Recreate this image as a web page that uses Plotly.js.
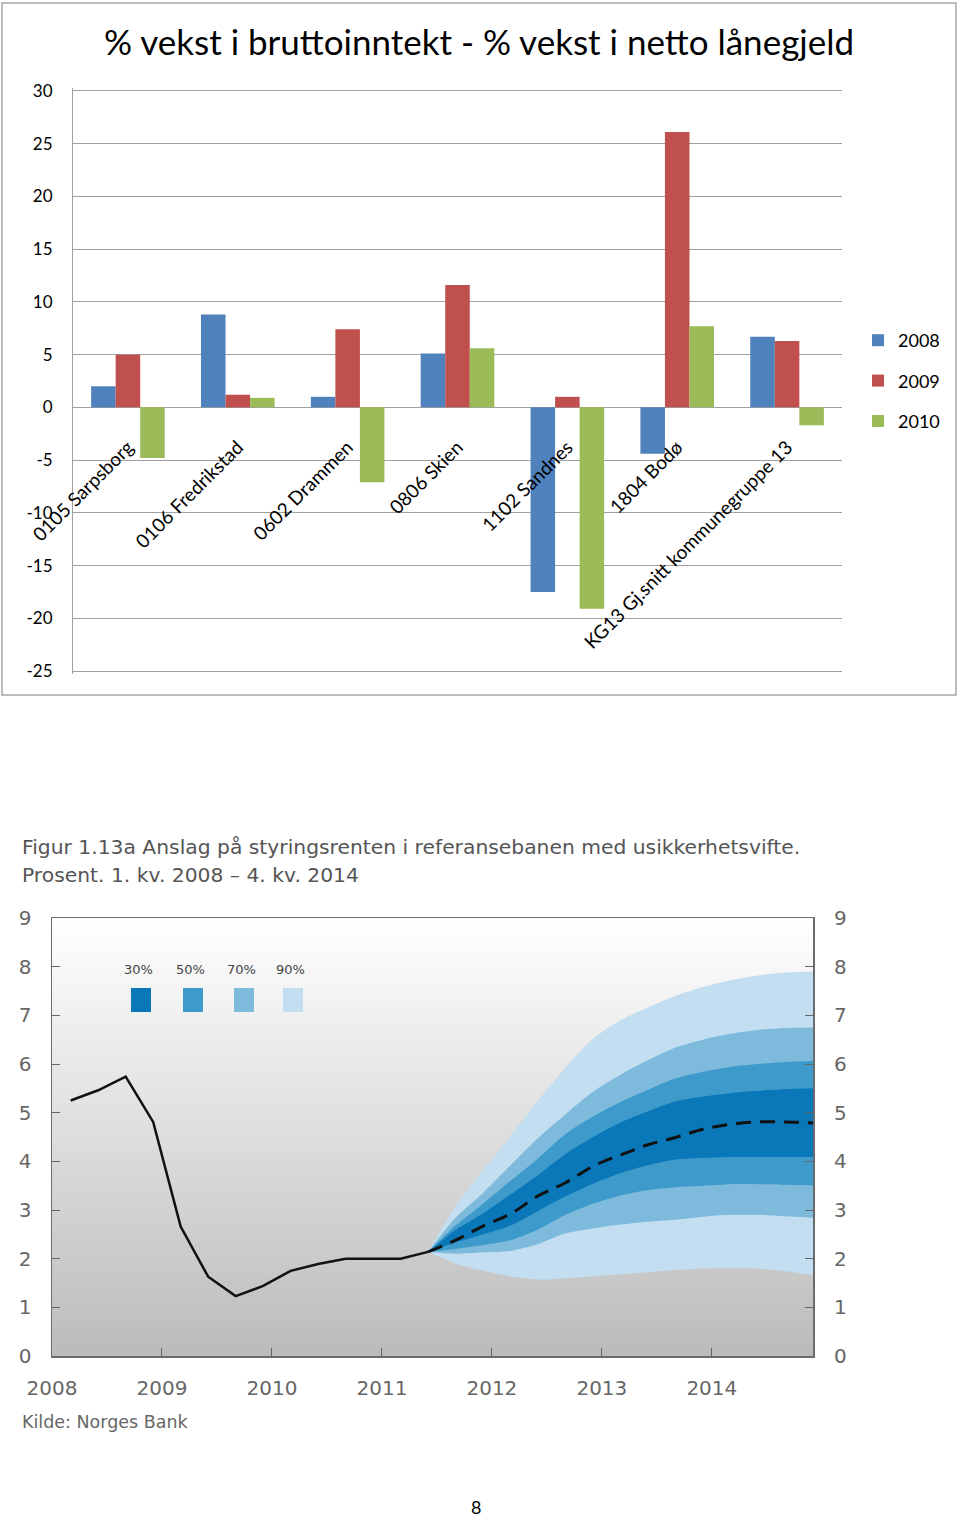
<!DOCTYPE html>
<html><head><meta charset="utf-8">
<script src="https://cdn.plot.ly/plotly-3.0.1.min.js"></script>
<style>html,body{margin:0;padding:0;background:#fff;} #chart{width:960px;height:1517px;}</style>
</head><body><div id="chart"></div>
<script>
// ---------- Top chart data ----------
const municipalities = ['0105 Sarpsborg','0106 Fredrikstad','0602 Drammen','0806 Skien','1102 Sandnes','1804 Bodø','KG13 Gj.snitt kommunegruppe 13'];
const growth2008 = [2.0, 8.8, 1.0, 5.1, -17.5, -4.4, 6.7];
const growth2009 = [5.0, 1.2, 7.4, 11.6, 1.0, 26.1, 6.3];
const growth2010 = [-4.8, 0.9, -7.1, 5.6, -19.1, 7.7, -1.7];
const seriesNames = ['2008','2009','2010'];
const seriesColors = ['#4f81bd','#c0504d','#9bbb59'];
const topTickVals = [-25,-20,-15,-10,-5,0,5,10,15,20,25,30];
const topTickText = ['-25','-20','-15','-10','-5','0','5','10','15','20','25','30'];

// ---------- Bottom chart data ----------
const histQuarters = [2008.17,2008.42,2008.67,2008.92,2009.17,2009.42,2009.67,2009.92,2010.17,2010.42,2010.67,2010.92,2011.17,2011.42];
const policyRate   = [5.25,5.46,5.74,4.81,2.66,1.63,1.23,1.44,1.75,1.89,2.0,2.0,2.0,2.14];
const fcQuarters = [2011.42,2011.67,2011.92,2012.17,2012.42,2012.67,2012.92,2013.17,2013.42,2013.67,2013.92,2014.17,2014.42,2014.67,2014.92];
const median  = [2.14,2.38,2.67,2.92,3.29,3.56,3.90,4.13,4.34,4.49,4.66,4.76,4.81,4.81,4.79];
const upper90 = [2.14,3.08,3.82,4.52,5.25,5.93,6.52,6.90,7.16,7.40,7.58,7.72,7.82,7.88,7.90];
const upper70 = [2.14,2.84,3.35,3.92,4.48,4.97,5.43,5.78,6.08,6.34,6.50,6.62,6.70,6.74,6.75];
const upper50 = [2.14,2.68,3.13,3.60,4.06,4.56,4.92,5.22,5.47,5.70,5.84,5.94,6.00,6.04,6.06];
const upper30 = [2.14,2.59,2.93,3.32,3.72,4.15,4.50,4.80,5.03,5.23,5.33,5.40,5.45,5.48,5.50];
const lower30 = [2.14,2.33,2.50,2.68,2.98,3.28,3.54,3.76,3.92,4.04,4.07,4.09,4.09,4.09,4.09];
const lower50 = [2.14,2.20,2.28,2.38,2.60,2.90,3.13,3.30,3.41,3.47,3.50,3.53,3.53,3.52,3.51];
const lower70 = [2.14,2.10,2.13,2.16,2.30,2.52,2.62,2.70,2.76,2.80,2.86,2.90,2.90,2.87,2.84];
const lower90 = [2.14,1.90,1.75,1.64,1.57,1.60,1.64,1.68,1.72,1.77,1.80,1.81,1.80,1.74,1.66];
const bandLabels = ['30%','50%','70%','90%'];
const bandColors = ['#0a78b8','#3d9acb','#7dbadb','#c2def0'];
const yearTicks = [2008,2009,2010,2011,2012,2013,2014];
const xRange2 = [2008, 2014.92];

// ---------- helpers (pixel -> paper) ----------
const W = 960, H = 1517;
const px = x => x / W;
const py = y => 1 - y / H;

const traces = [];
[growth2008, growth2009, growth2010].forEach((vals, i) => {
  traces.push({type:'bar', x: municipalities, y: vals, name: seriesNames[i], legendgroup: 'g'+i,
    marker:{color: seriesColors[i]}, xaxis:'x', yaxis:'y', hoverinfo:'skip'});
});
traces.push({type:'heatmap', x: xRange2, y:[0,9], z:[[0,0],[1,1]], zsmooth:'best', showscale:false,
  colorscale:[[0,'#bbbbbb'],[1,'#ffffff']], xaxis:'x2', yaxis:'y2', hoverinfo:'skip', showlegend:false});
const bands = [[lower90, upper90, 3],[lower70, upper70, 2],[lower50, upper50, 1],[lower30, upper30, 0]];
bands.forEach(([lo, hi, ci]) => {
  traces.push({type:'scatter', mode:'lines', x: fcQuarters, y: lo, line:{width:0, shape:'spline', smoothing:0.8},
    xaxis:'x2', yaxis:'y2', showlegend:false, hoverinfo:'skip'});
  traces.push({type:'scatter', mode:'lines', x: fcQuarters, y: hi, line:{width:0, shape:'spline', smoothing:0.8},
    fill:'tonexty', fillcolor: bandColors[ci], xaxis:'x2', yaxis:'y2', showlegend:false, hoverinfo:'skip'});
});
traces.push({type:'scatter', mode:'lines', x: histQuarters, y: policyRate, line:{color:'#111', width:2.5},
  xaxis:'x2', yaxis:'y2', showlegend:false, hoverinfo:'skip'});
traces.push({type:'scatter', mode:'lines', x: fcQuarters, y: median, line:{color:'#111', width:3, dash:'15px,9px', shape:'spline'},
  xaxis:'x2', yaxis:'y2', showlegend:false, hoverinfo:'skip'});
traces.push({type:'scatter', mode:'lines', x:xRange2, y:[0,0], xaxis:'x2', yaxis:'y3', line:{width:0}, showlegend:false, hoverinfo:'skip'});

const annFam = 'DejaVu Sans, sans-serif';
const annotations = [
  {text:'Figur 1.13a Anslag på styringsrenten i referansebanen med usikkerhetsvifte.', x:px(20), y:py(847), xref:'paper', yref:'paper', xanchor:'left', yanchor:'middle', showarrow:false, font:{family:annFam, size:20.3, color:'#555'}},
  {text:'Prosent. 1. kv. 2008 – 4. kv. 2014', x:px(20), y:py(875), xref:'paper', yref:'paper', xanchor:'left', yanchor:'middle', showarrow:false, font:{family:annFam, size:20.3, color:'#555'}},
  {text:'Kilde: Norges Bank', x:px(20), y:py(1422), xref:'paper', yref:'paper', xanchor:'left', yanchor:'middle', showarrow:false, font:{family:annFam, size:17.5, color:'#666'}},
  {text:'8', x:px(476), y:py(1507), xref:'paper', yref:'paper', xanchor:'center', yanchor:'middle', showarrow:false, font:{family:'Lato, sans-serif', size:18, color:'#000'}}
];
const legendSquareLeft = [131, 183, 234, 283];
const shapes = [
  {type:'rect', xref:'paper', yref:'paper', x0:px(2), x1:px(956), y0:py(695), y1:py(3), line:{color:'#a6a6a6', width:1.5}}
];
bandLabels.forEach((lab, i) => {
  const l = legendSquareLeft[i];
  annotations.push({text: lab, x:px(l+7), y:py(969), xref:'paper', yref:'paper', xanchor:'center', yanchor:'middle', showarrow:false, font:{family:annFam, size:13, color:'#444'}});
  shapes.push({type:'rect', xref:'paper', yref:'paper', x0:px(l), x1:px(l+20), y0:py(1012), y1:py(988), fillcolor: bandColors[i], line:{width:0}});
});

const axisFont2 = {family:annFam, size:20, color:'#666'};
const topFont = {family:'Lato, sans-serif', size:17, color:'#000'};
const layout = {
  width: W, height: H, margin:{l:0,r:0,t:0,b:0},
  paper_bgcolor:'#fff', plot_bgcolor:'rgba(0,0,0,0)',
  title:{text:'% vekst i bruttoinntekt - % vekst i netto lånegjeld', x:0.499, xanchor:'center', y:py(43), yanchor:'middle',
    font:{family:'Lato, sans-serif', size:35, color:'#000'}},
  barmode:'group', bargap:0.33, bargroupgap:0,
  showlegend:true,
  legend:{x:px(858), xanchor:'left', y:py(381), yanchor:'middle', tracegroupgap:14, bgcolor:'rgba(0,0,0,0)',
    font:{family:'Lato, sans-serif', size:18, color:'#000'}, itemwidth:30},
  xaxis:{domain:[px(73), px(842)], anchor:'free', position:py(407.6), type:'category', tickangle:-45,
    tickfont:{family:'Lato, sans-serif', size:19, color:'#000'}, showgrid:false, zeroline:false, showline:false, ticks:'',
    ticklabelstandoff:24},
  yaxis:{domain:[py(674.2), py(87.8)], anchor:'x', range:[-25.3,30.3], tickvals:topTickVals, ticktext:topTickText,
    gridcolor:'#a0a0a0', gridwidth:1,
    zeroline:true, zerolinecolor:'#a0a0a0', zerolinewidth:1, showline:true, linecolor:'#a0a0a0', linewidth:1,
    tickfont:topFont, ticks:'', ticklabelstandoff:16},
  xaxis2:{domain:[px(52), px(813)], anchor:'y2', range:xRange2, tickvals:yearTicks, ticktext:yearTicks.map(String),
    ticks:'inside', ticklen:8, tickcolor:'#666', showline:true, mirror:true, linecolor:'#6b6b6b', linewidth:1.5,
    showgrid:false, zeroline:false, tickfont:axisFont2, ticklabelstandoff:13},
  yaxis2:{domain:[py(1356), py(918)], anchor:'x2', range:[0,9], dtick:1, ticks:'inside', ticklen:8, tickcolor:'#666',
    showline:true, mirror:true, linecolor:'#6b6b6b', linewidth:1.5, showgrid:false, zeroline:false, tickfont:axisFont2,
    ticklabelstandoff:15},
  yaxis3:{overlaying:'y2', side:'right', anchor:'x2', range:[0,9], dtick:1, ticks:'inside', ticklen:8, tickcolor:'#666',
    showline:false, showgrid:false, zeroline:false, tickfont:axisFont2, ticklabelstandoff:20},
  annotations, shapes
};

Plotly.newPlot('chart', traces, layout, {displayModeBar:false, staticPlot:true});
</script></body></html>
